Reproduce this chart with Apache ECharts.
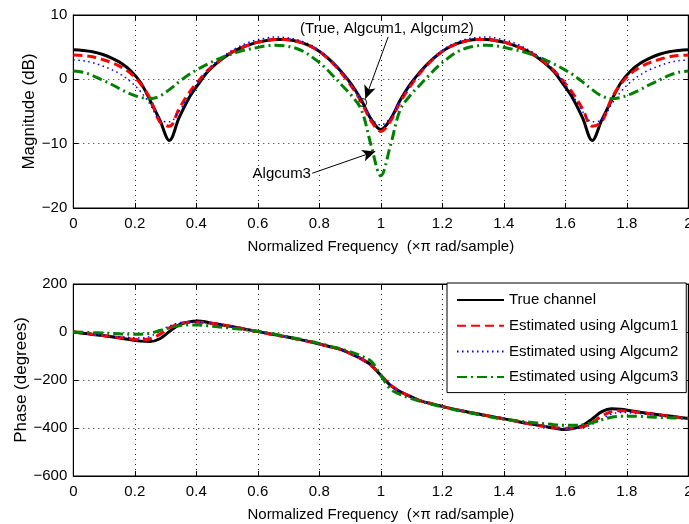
<!DOCTYPE html>
<html>
<head>
<meta charset="utf-8">
<script src="https://cdn.jsdelivr.net/npm/echarts@6/dist/echarts.min.js"></script>
<style>
html,body{margin:0;padding:0;background:#fff;}
#c{width:689px;height:524px;}
</style>
</head>
<body>
<div id="c"></div>
<script>
// Normalized frequency (x pi rad/sample)
const freq = [0,0.03125,0.0625,0.09375,0.125,0.15625,0.1875,0.21875,0.25,0.28125,0.3125,0.34375,0.375,0.40625,0.4375,0.46875,0.5,0.53125,0.5625,0.59375,0.625,0.65625,0.6875,0.71875,0.75,0.78125,0.8125,0.84375,0.875,0.90625,0.9375,0.96875,1,1.03125,1.0625,1.09375,1.125,1.15625,1.1875,1.21875,1.25,1.28125,1.3125,1.34375,1.375,1.40625,1.4375,1.46875,1.5,1.53125,1.5625,1.59375,1.625,1.65625,1.6875,1.71875,1.75,1.78125,1.8125,1.84375,1.875,1.90625,1.9375,1.96875,2];

const seriesNames = ['True channel','Estimated using Algcum1','Estimated using Algcum2','Estimated using Algcum3'];

// Magnitude (dB)
const magTrue = [4.6,4.5,4.3,3.9,3.3,2.5,1.3,-0.5,-3.3,-6.3,-9.5,-6.0,-3.0,-0.8,1.2,2.6,3.7,4.6,5.2,5.7,6.0,6.2,6.2,6.0,5.6,4.9,3.9,2.6,1.0,-0.9,-3.3,-6.2,-7.8,
  -6.2,-3.3,-0.9,1.0,2.6,3.9,4.9,5.6,6.0,6.2,6.2,6.0,5.7,5.2,4.6,3.7,2.6,1.2,-0.8,-3.0,-6.0,-9.5,-6.3,-3.3,-0.5,1.3,2.5,3.3,3.9,4.3,4.5,4.6];
const magAlg1 = [3.8,3.7,3.5,3.1,2.6,1.9,0.9,-0.7,-3.0,-6.6,-7.3,-4.6,-2.2,-0.3,1.4,2.7,3.8,4.6,5.2,5.7,6.0,6.2,6.2,6.0,5.6,4.9,3.9,2.5,0.8,-1.2,-3.6,-6.5,-8.1,
  -6.5,-3.6,-1.2,0.8,2.5,3.9,4.9,5.6,6.0,6.2,6.2,6.0,5.7,5.2,4.6,3.8,2.7,1.4,-0.3,-2.2,-4.6,-7.3,-6.6,-3.0,-0.7,0.9,1.9,2.6,3.1,3.5,3.7,3.8];
const magAlg2 = [3.0,2.9,2.6,2.1,1.5,0.7,-0.4,-1.9,-3.9,-6.3,-6.6,-5.0,-2.6,-0.4,1.5,2.9,4.0,4.9,5.6,6.1,6.4,6.6,6.5,6.3,5.8,5.1,4.0,2.6,0.9,-1.1,-3.4,-6.0,-7.1,
  -6.0,-3.4,-1.1,0.9,2.6,4.0,5.1,5.8,6.3,6.5,6.6,6.4,6.1,5.6,4.9,4.0,2.9,1.5,-0.4,-2.6,-5.0,-6.6,-6.3,-3.9,-1.9,-0.4,0.7,1.5,2.1,2.6,2.9,3.0];
const magAlg3 = [1.3,1.1,0.6,-0.1,-0.8,-1.6,-2.3,-2.8,-3.0,-2.6,-1.6,-0.4,0.7,1.6,2.4,3.1,3.7,4.2,4.6,4.9,5.2,5.3,5.2,4.9,4.3,3.3,2.1,0.6,-1.0,-2.6,-4.8,-10.3,-15.0,
  -10.3,-4.8,-2.6,-1.0,0.6,2.1,3.3,4.3,4.9,5.2,5.3,5.2,4.9,4.6,4.2,3.7,3.1,2.4,1.6,0.7,-0.4,-1.6,-2.6,-3.0,-2.8,-2.3,-1.6,-0.8,-0.1,0.6,1.1,1.3];

// Phase (degrees)
const phTrue = [0,-5,-10,-15,-20,-26,-32,-38,-40,-28,2,30,42,46,40,33,26,19,11,3,-4,-12,-19,-27,-35,-44,-54,-64,-75,-93,-112,-138,-180,
  -222,-248,-267,-285,-296,-306,-316,-325,-333,-341,-348,-356,-363,-371,-379,-386,-393,-400,-406,-402,-390,-362,-332,-320,-322,-328,-334,-340,-345,-350,-355,-360];
const phAlg1 = [0,-4,-9,-14,-19,-24,-29,-32,-28,-10,17,35,40,41,38,33,26,19,11,3,-4,-12,-19,-27,-35,-44,-54,-64,-75,-93,-113,-140,-180,
  -220,-247,-267,-285,-296,-306,-316,-325,-333,-341,-348,-356,-363,-371,-379,-386,-393,-398,-401,-400,-395,-377,-350,-332,-328,-331,-336,-341,-346,-351,-356,-360];
const phAlg2 = [0,-4,-8,-12,-16,-20,-23,-25,-18,3,25,38,41,41,38,33,26,19,11,3,-4,-12,-19,-27,-35,-44,-54,-64,-75,-93,-113,-140,-180,
  -220,-247,-267,-285,-296,-306,-316,-325,-333,-341,-348,-356,-363,-371,-379,-386,-393,-398,-401,-401,-398,-385,-363,-342,-335,-337,-340,-344,-348,-352,-356,-360];
const phAlg3 = [0,-1,-3,-4,-6,-8,-9,-9,-5,6,18,26,29,29,26,22,18,14,9,4,-2,-9,-17,-25,-33,-42,-52,-62,-72,-85,-100,-122,-180,
  -238,-260,-275,-288,-298,-308,-318,-327,-335,-343,-351,-358,-364,-369,-374,-378,-382,-386,-389,-389,-386,-378,-366,-355,-351,-351,-352,-354,-356,-357,-359,-360];

// Annotation texts
const noteTop = '(True, Algcum1, Algcum2)';
const noteBottom = 'Algcum3';

const FONT = 'Liberation Sans, Arial, Helvetica, sans-serif';
const styles = [
  {color:'#000000', width:3, type:'solid'},
  {color:'#ff0000', width:3, type:[9,5]},
  {color:'#0000ff', width:1.5, type:[1.5,3.5]},
  {color:'#008000', width:3, type:[10,4,2,4]}
];
const magSets = [magTrue, magAlg1, magAlg2, magAlg3];
const phSets = [phTrue, phAlg1, phAlg2, phAlg3];
const zip = arr => freq.map((f,i)=>[f, arr[i]]);
const minusFmt = v => String(v).replace('-', '\u2212');

const gridL = 73.3, gridW = 615;
function xAx(gi, pos, showName){
  return {
    type:'value', gridIndex:gi, min:0, max:2, interval:0.2, position:pos,
    name: showName ? 'Normalized Frequency  (\u00d7\u03c0 rad/sample)' : '',
    nameLocation:'middle', nameGap:31, nameMoveOverlap:false,
    nameTextStyle:{color:'#000', fontSize:15, fontFamily:FONT},
    axisLine:{show:true, onZero:false, lineStyle:{color:'#000', width:1}},
    axisTick:{show:true, inside:true, length:5, lineStyle:{color:'#000'}},
    axisLabel:{show: pos==='bottom', color:'#000', fontSize:15, fontFamily:FONT, margin:8,
      formatter: v => String(Math.round(v*10)/10)},
    splitLine:{show: pos==='bottom', lineStyle:{color:'#222', width:1, type:[1,4]}}
  };
}
function yAx(gi, pos, min, max, interval, name, gap){
  return {
    type:'value', gridIndex:gi, min:min, max:max, interval:interval, position:pos,
    name: name, nameLocation:'middle', nameGap:gap, nameRotate:90, nameMoveOverlap:false,
    nameTextStyle:{color:'#000', fontSize:17, fontFamily:FONT},
    axisLine:{show:true, onZero:false, lineStyle:{color:'#000', width:1}},
    axisTick:{show:true, inside:true, length:5, lineStyle:{color:'#000'}},
    axisLabel:{show: pos==='left', color:'#000', fontSize:15, fontFamily:FONT, margin:6, formatter:minusFmt},
    splitLine:{show: pos==='left', lineStyle:{color:'#222', width:1, type:[1,4]}}
  };
}

const series = [];
magSets.forEach((d,i)=>{
  series.push({
    name: seriesNames[i], type:'line', xAxisIndex:0, yAxisIndex:0,
    data: zip(d), smooth:0.35, symbol:'none', showSymbol:false,
    lineStyle:{color:styles[i].color, width:styles[i].width, type:styles[i].type},
    itemStyle:{color:styles[i].color}, animation:false, z: 2+i
  });
});
phSets.forEach((d,i)=>{
  series.push({
    name: seriesNames[i], type:'line', xAxisIndex:2, yAxisIndex:2,
    data: zip(d), smooth:0.35, symbol:'none', showSymbol:false,
    lineStyle:{color:styles[i].color, width:styles[i].width, type:styles[i].type},
    itemStyle:{color:styles[i].color}, animation:false, z: 2+i
  });
});
// annotation series on the magnitude plot
series.push({
  type:'line', xAxisIndex:0, yAxisIndex:0, data:[], silent:true, animation:false, z:10,
  markLine:{
    silent:true, animation:false, symbol:['none','arrow'], symbolSize:[9,13],
    lineStyle:{color:'#000', width:1, type:'solid'}, label:{show:false},
    data:[
      [{coord:[1.024,6.6]},{coord:[0.950,-3.0]}],
      [{coord:[0.777,-14.6]},{coord:[0.982,-11.2]}]
    ]
  },
  markPoint:{
    silent:true, animation:false,
    data:[
      {coord:[0.941,-3.6], symbol:'circle', symbolSize:8,
       itemStyle:{color:'rgba(0,0,0,0)', borderColor:'#000', borderWidth:1}, label:{show:false}},
      {coord:[1.020,7.8], symbol:'circle', symbolSize:1, itemStyle:{color:'rgba(0,0,0,0)'},
       label:{show:true, position:'inside', formatter:noteTop, color:'#000', fontSize:15, fontFamily:FONT}},
      {coord:[0.678,-14.7], symbol:'circle', symbolSize:1, itemStyle:{color:'rgba(0,0,0,0)'},
       label:{show:true, position:'inside', formatter:noteBottom, color:'#000', fontSize:15, fontFamily:FONT}}
    ]
  }
});

const chart = echarts.init(document.getElementById('c'), null, {renderer:'canvas'});
chart.setOption({
  animation:false,
  backgroundColor:'#fff',
  textStyle:{fontFamily:FONT},
  grid:[
    {left:gridL, top:15, width:gridW, height:193, show:true, borderColor:'#000', borderWidth:1, backgroundColor:'#fff', containLabel:false, outerBoundsMode:'none'},
    {left:gridL, top:284, width:gridW, height:192, show:true, borderColor:'#000', borderWidth:1, backgroundColor:'#fff', containLabel:false, outerBoundsMode:'none'}
  ],
  xAxis:[ xAx(0,'bottom',true), xAx(0,'top',false), xAx(1,'bottom',true), xAx(1,'top',false) ],
  yAxis:[
    yAx(0,'left',-20,10,10,'Magnitude (dB)',35), yAx(0,'right',-20,10,10,'',0),
    yAx(1,'left',-600,200,200,'Phase (degrees)',43.5), yAx(1,'right',-600,200,200,'',0)
  ],
  legend:{
    data: seriesNames, orient:'vertical', left:447, top:283,
    itemWidth:47, itemHeight:14, itemGap:10.7,
    padding:[9.5,8,8,9], borderColor:'#000', borderWidth:1, backgroundColor:'#fff',
    textStyle:{color:'#000', fontSize:15, fontFamily:FONT},
    itemStyle:{color:'rgba(0,0,0,0)', borderColor:'rgba(0,0,0,0)', borderWidth:0, opacity:0},
    selectedMode:false, z:20
  },
  series: series
});
</script>
</body>
</html>
